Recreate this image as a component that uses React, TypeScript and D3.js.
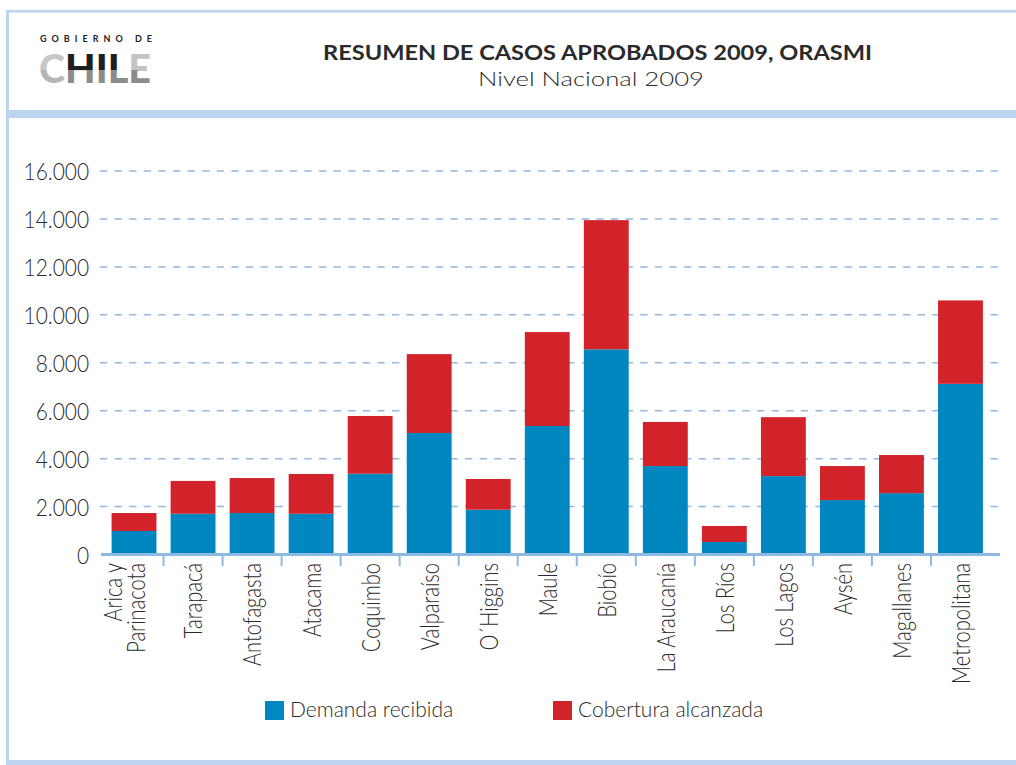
import React from "react";
import * as d3 from "d3";

const categories = [
  "Arica y Parinacota", "Tarapacá", "Antofagasta", "Atacama", "Coquimbo",
  "Valparaíso", "O´Higgins", "Maule", "Biobío", "La Araucanía", "Los Ríos",
  "Los Lagos", "Aysén", "Magallanes", "Metropolitana",
];
const demandaRecibida = [980, 1700, 1730, 1700, 3370, 5070, 1870, 5360, 8560, 3690, 520, 3270, 2270, 2560, 7120];
const coberturaAlcanzada = [750, 1370, 1460, 1660, 2410, 3290, 1280, 3920, 5390, 1840, 670, 2460, 1420, 1590, 3480];
const yTicks = [0, 2000, 4000, 6000, 8000, 10000, 12000, 14000, 16000];
const seriesKeys = ["demanda", "cobertura"];
const seriesNames = ["Demanda recibida", "Cobertura alcanzada"];

const BLUE = "#0087BF";
const RED = "#D2232A";
const FRAME = "#BDD4EE";
const GRID = "#8DB9E2";
const TEXT = "#2a2a2a";
const FONT = "Lato, 'Open Sans', sans-serif";

const fmt = (v: number) => (v === 0 ? "0" : d3.format(",")(v).replace(/,/g, "."));

function SplitGrad({ id, top, bottom }: { id: string; top: string; bottom: string }) {
  return (
    <linearGradient id={id} gradientUnits="userSpaceOnUse" x1={0} y1={54} x2={0} y2={83}>
      <stop offset="0" stopColor={top} />
      <stop offset="0.55" stopColor={top} />
      <stop offset="0.55" stopColor={bottom} />
      <stop offset="1" stopColor={bottom} />
    </linearGradient>
  );
}

export default function App() {
  const W = 1016, H = 765;
  const x = d3.scaleBand<string>().domain(categories).range([104.5, 990]).paddingInner(0.24).paddingOuter(0.12);
  const y = d3.scaleLinear().domain([0, 16000]).range([554.5, 171]);
  const rows = categories.map((c, i) => ({ cat: c, demanda: demandaRecibida[i], cobertura: coberturaAlcanzada[i] }));
  const stacked = d3.stack<any>().keys(seriesKeys)(rows);
  const colors = [BLUE, RED];
  const step = x.step();

  return (
    <svg width={W} height={H} style={{ position: "absolute", left: 0, top: 0, background: "#fff" }} fontFamily={FONT}>
      <defs>
        <SplitGrad id="gC" top="#c8c8c8" bottom="#b6b6b6" />
        <SplitGrad id="gH" top="#1f1f1f" bottom="#8c8c8c" />
        <SplitGrad id="gE" top="#c4c4c4" bottom="#8c8c8c" />
      </defs>
      {/* frame */}
      <rect x={6} y={10} width={W - 6} height={2.5} fill={FRAME} />
      <rect x={6} y={10} width={3} height={H - 10} fill={FRAME} />
      <rect x={6} y={110} width={W - 6} height={8} fill={FRAME} />
      <rect x={6} y={760} width={W - 6} height={5} fill={FRAME} />

      {/* logo */}
      <text x={40} y={41.5} fontSize={9} fontWeight={700} fill="#222" textLength={112} lengthAdjust="spacing">GOBIERNO DE</text>
      <text x={39} y={83} fontSize={40} fontWeight={900} textLength={112} lengthAdjust="spacingAndGlyphs">
        <tspan fill="url(#gC)">C</tspan><tspan fill="url(#gH)">HIL</tspan><tspan fill="url(#gE)">E</tspan>
      </text>

      {/* titles */}
      <text x={323} y={59.5} fontSize={20} fontWeight={700} fill={TEXT} textLength={549} lengthAdjust="spacingAndGlyphs">
        RESUMEN DE CASOS APROBADOS 2009, ORASMI
      </text>
      <text x={478} y={85.5} fontSize={19} fontWeight={300} fill={TEXT} textLength={226} lengthAdjust="spacingAndGlyphs">
        Nivel Nacional 2009
      </text>

      {/* grid + y labels */}
      {yTicks.map((t) => (
        <g key={t}>
          {t > 0 && (
            <line x1={100} x2={998} y1={y(t)} y2={y(t)} stroke={GRID} strokeWidth={1.5} strokeDasharray="7.3 7.3" />
          )}
          <g transform={`translate(89,${y(t)}) scale(0.87,1)`}>
            <text textAnchor="end" dominantBaseline="central" fontSize={24} fontWeight={300} fill={TEXT}>{fmt(t)}</text>
          </g>
        </g>
      ))}

      {/* bars */}
      {stacked.map((s, si) => (
        <g key={s.key} fill={colors[si]}>
          {s.map((d: any) => (
            <rect key={d.data.cat} x={x(d.data.cat)} width={x.bandwidth()} y={y(d[1])} height={y(d[0]) - y(d[1])} />
          ))}
        </g>
      ))}

      {/* x axis */}
      <line x1={101} x2={1000} y1={y(0)} y2={y(0)} stroke={GRID} strokeWidth={3} />
      {categories.slice(1).map((c) => {
        const tx = (x(c) as number) - (step - x.bandwidth()) / 2;
        return <line key={c} x1={tx} x2={tx} y1={y(0)} y2={566} stroke={GRID} strokeWidth={2} />;
      })}
      {categories.map((c) => {
        const cx = (x(c) as number) + x.bandwidth() / 2;
        const parts = c === "Arica y Parinacota" ? ["Arica y", "Parinacota"] : [c];
        const offs = parts.length === 2 ? [-21, 2] : [0];
        return (
          <g key={c} transform={`translate(${cx},563) rotate(-90) scale(0.8,1)`}>
            {parts.map((p, i) => (
              <text key={p} x={0} y={offs[i]} textAnchor="end" dominantBaseline="central" fontSize={25} fontWeight={300} fill={TEXT}>{p}</text>
            ))}
          </g>
        );
      })}

      {/* legend */}
      {seriesNames.map((n, i) => {
        const lx = [265, 553][i];
        return (
          <g key={n}>
            <rect x={lx} y={701} width={19} height={19} fill={colors[i]} />
            <text x={lx + 25} y={716.5} fontSize={21} fontWeight={300} fill={TEXT}>{n}</text>
          </g>
        );
      })}
    </svg>
  );
}
